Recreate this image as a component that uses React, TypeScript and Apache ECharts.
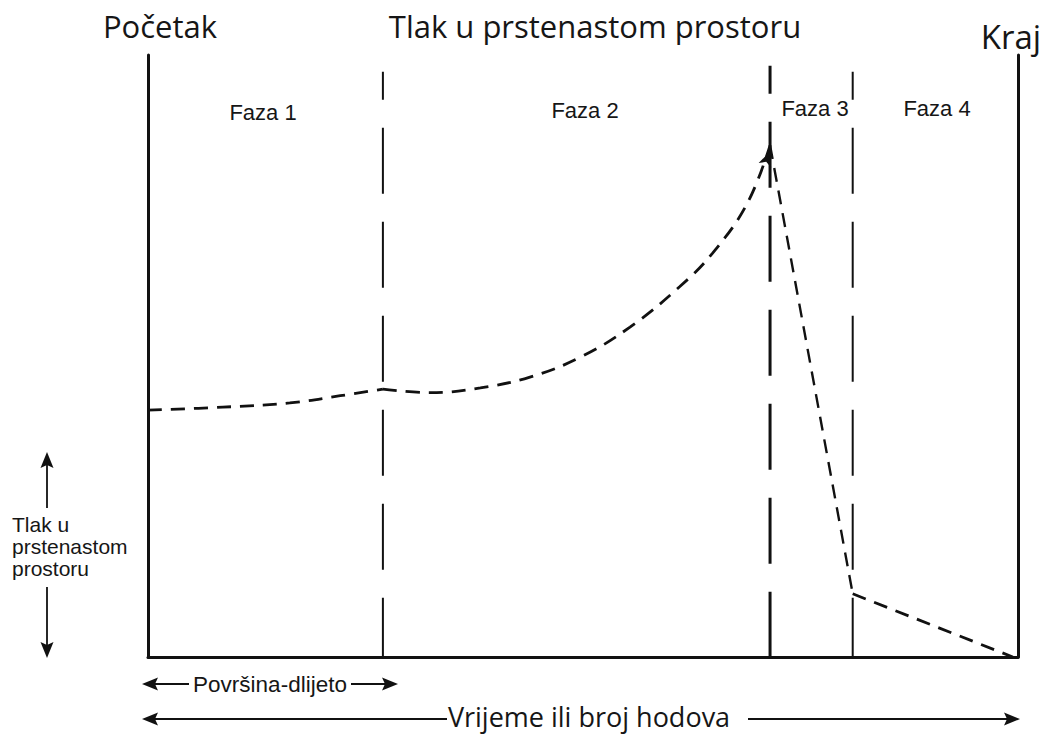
import React, { useEffect, useRef } from "react";
import * as echarts from "echarts";

// Pressure curve (time units 0..100, pressure units 0..100)
const phase1Curve: [number, number][] = [
  [0, 41.0], [8.6, 41.5], [16.3, 42.2], [22.1, 43.4], [27.0, 44.5],
];
const phase2Curve: [number, number][] = [
  [27.0, 44.5], [32.4, 43.9], [38.2, 44.7], [43.9, 46.5], [49.7, 49.8],
  [55.4, 54.8], [61.1, 61.5], [64.9, 67.1], [68.9, 75.4], [71.5, 85.0],
];
const phase3Line: [number, number][] = [[71.5, 85.0], [81.0, 10.5]];
const phase4Line: [number, number][] = [[81.0, 10.5], [99.4, 0]];

const phaseBounds = [27.0, 71.5, 81.0];
const phaseBoundTops = [97.2, 98.2, 97.2];
const phaseBoundWidths = [2, 3, 2];

const phaseLabels = ["Faza 1", "Faza 2", "Faza 3", "Faza 4"];
const phaseLabelX = [263, 585, 815, 937];
const phaseLabelY = [112, 110, 108, 108];

const yLabelLines = ["Tlak u", "prstenastom", "prostoru"];

const TXT = "#161616";

function head(tx: number, ty: number, dir: string) {
  const L = 16, W = 6.5, N = 3;
  let pts: number[][] = [];
  if (dir === "left") pts = [[tx, ty], [tx + L, ty - W], [tx + L - N, ty], [tx + L, ty + W]];
  if (dir === "right") pts = [[tx, ty], [tx - L, ty - W], [tx - L + N, ty], [tx - L, ty + W]];
  if (dir === "up") pts = [[tx, ty], [tx - W, ty + L], [tx, ty + L - N], [tx + W, ty + L]];
  if (dir === "down") pts = [[tx, ty], [tx - W, ty - L], [tx, ty - L + N], [tx + W, ty - L]];
  return { type: "polygon", shape: { points: pts }, style: { fill: "#111" }, silent: true };
}
function seg(x1: number, y1: number, x2: number, y2: number) {
  return { type: "line", shape: { x1, y1, x2, y2 }, style: { stroke: "#111", lineWidth: 1.8 }, silent: true };
}

export default function App() {
  const ref = useRef<HTMLDivElement>(null);
  useEffect(() => {
    const chart = echarts.init(ref.current!, null, { renderer: "svg" });
    const dashed = { color: "#111", width: 2.8, type: [14, 9] as any };
    const series: any[] = [
      { type: "line", data: phase1Curve, smooth: 0.4, symbol: "none", lineStyle: dashed },
      {
        type: "line", data: phase2Curve, smooth: 0.4, symbol: "none", lineStyle: dashed,
        markPoint: {
          symbol: "arrow", symbolSize: [10, 15], symbolRotate: -20, symbolOffset: [0, 6],
          itemStyle: { color: "#111" }, label: { show: false },
          data: [{ coord: phase2Curve[phase2Curve.length - 1] }],
        },
      },
      { type: "line", data: phase3Line, symbol: "none", lineStyle: { ...dashed, width: 2.4 } },
      { type: "line", data: phase4Line, symbol: "none", lineStyle: dashed },
    ];
    phaseBounds.forEach((x, i) => {
      series.push({
        type: "line", symbol: "none",
        data: [[x, phaseBoundTops[i]], [x, 0]],
        lineStyle: { color: "#111", width: phaseBoundWidths[i], type: [66, 28], dashOffset: 38 },
        z: 1,
      });
    });

    const graphics: any[] = [
      { type: "text", x: 160, y: 26, style: { text: "Početak", font: '31px "Open Sans"', fill: TXT, align: "center", verticalAlign: "middle" } },
      { type: "text", x: 595, y: 26, style: { text: "Tlak u prstenastom prostoru", font: '31px "Open Sans"', fill: TXT, align: "center", verticalAlign: "middle" } },
      { type: "text", x: 1011, y: 36, style: { text: "Kraj", font: '33px "Open Sans"', fill: TXT, align: "center", verticalAlign: "middle" } },
      ...phaseLabels.map((t, i) => ({
        type: "text", x: phaseLabelX[i], y: phaseLabelY[i],
        style: { text: t, font: '22px "Liberation Sans"', fill: TXT, align: "center", verticalAlign: "middle" },
      })),
      ...yLabelLines.map((t, i) => ({
        type: "text", x: 12, y: 524 + i * 22,
        style: { text: t, font: '21px "Liberation Sans"', fill: TXT, align: "left", verticalAlign: "middle" },
      })),
      seg(47, 462, 47, 508), head(47, 452, "up"),
      seg(47, 587, 47, 648), head(47, 658, "down"),
      seg(150, 684, 189, 684), head(142, 684, "left"),
      { type: "text", x: 270, y: 684, style: { text: "Površina-dlijeto", font: '22.5px "Liberation Sans"', fill: TXT, align: "center", verticalAlign: "middle" } },
      seg(351, 684, 390, 684), head(398, 684, "right"),
      seg(150, 719, 447, 719), head(142, 719, "left"),
      { type: "text", x: 589, y: 716, style: { text: "Vrijeme ili broj hodova", font: '27px "Open Sans"', fill: TXT, align: "center", verticalAlign: "middle" } },
      seg(748, 719, 1012, 719), head(1020, 719, "right"),
    ];

    chart.setOption({
      animation: false,
      backgroundColor: "#fff",
      grid: { left: 148, right: 35, top: 55, bottom: 77, containLabel: false, outerBoundsMode: "none" } as any,
      xAxis: {
        type: "value", min: 0, max: 100,
        axisLine: { show: true, lineStyle: { color: "#111", width: 3 } },
        axisTick: { show: false }, axisLabel: { show: false }, splitLine: { show: false },
      },
      yAxis: [
        {
          type: "value", min: 0, max: 100, position: "left",
          axisLine: { show: true, onZero: false, lineStyle: { color: "#111", width: 3 } },
          axisTick: { show: false }, axisLabel: { show: false }, splitLine: { show: false },
        },
        {
          type: "value", min: 0, max: 100, position: "right",
          axisLine: { show: true, onZero: false, lineStyle: { color: "#111", width: 3 } },
          axisTick: { show: false }, axisLabel: { show: false }, splitLine: { show: false },
        },
      ],
      series,
      graphic: graphics,
    });
    return () => chart.dispose();
  }, []);
  return <div ref={ref} style={{ width: 1053, height: 734, position: "absolute", left: 0, top: 0 }} />;
}
